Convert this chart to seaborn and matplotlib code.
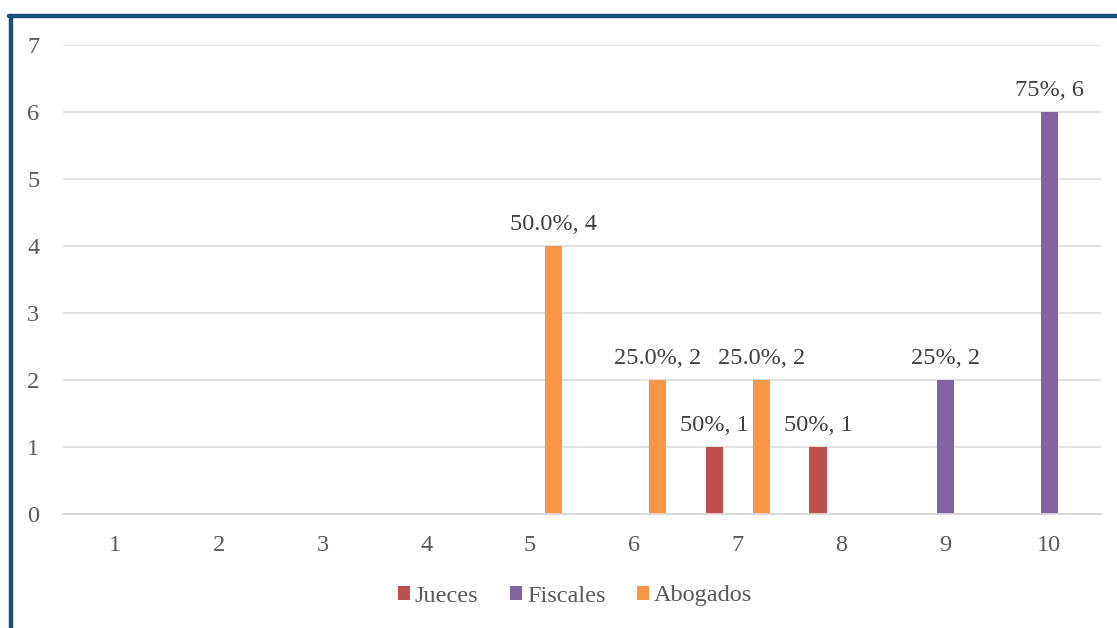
import pandas as pd
import matplotlib.pyplot as plt
from matplotlib.lines import Line2D
import seaborn as sns

# Datos
puntajes = [1, 2, 3, 4, 5, 6, 7, 8, 9, 10]
grupos = ['Jueces', 'Fiscales', 'Abogados']
jueces = [0, 0, 0, 0, 0, 0, 1, 1, 0, 0]
fiscales = [0, 0, 0, 0, 0, 0, 0, 0, 2, 6]
abogados = [0, 0, 0, 0, 4, 2, 2, 0, 0, 0]
jueces_pct = ['', '', '', '', '', '', '50%', '50%', '', '']
fiscales_pct = ['', '', '', '', '', '', '', '', '25%', '75%']
abogados_pct = ['', '', '', '', '50.0%', '25.0%', '25.0%', '', '', '']
colores = ['#C0504D', '#8064A2', '#F79646']

sns.set_theme(style='white')
plt.rcParams['font.family'] = ['Liberation Serif', 'DejaVu Serif']

df = pd.DataFrame({
    'puntaje': puntajes * 3,
    'grupo': [g for g in grupos for _ in puntajes],
    'n': jueces + fiscales + abogados,
})

fig = plt.figure(figsize=(11.17, 6.28), dpi=100)
ax = fig.add_axes([63 / 1117, 1 - 514 / 628, (1101 - 63) / 1117, (514 - 45) / 628])

sns.barplot(data=df, x='puntaje', y='n', hue='grupo', order=puntajes,
            hue_order=grupos, palette=colores, saturation=1, width=0.68,
            gap=0.27, linewidth=0, ax=ax)

# etiquetas de datos
for cont, vals, pcts in zip(ax.containers, [jueces, fiscales, abogados],
                            [jueces_pct, fiscales_pct, abogados_pct]):
    labs = [f'{p}, {v}' if v else '' for v, p in zip(vals, pcts)]
    ax.bar_label(cont, labels=labs, padding=8, fontsize=17.5, color='#404040')

ax.set_ylim(0, 7)
ax.set_yticks(range(0, 8))
ax.set_xlabel('')
ax.set_ylabel('')
ax.grid(axis='y', color='#D9D9D9', linewidth=1.1)
ax.set_axisbelow(True)
for s in ['top', 'right', 'left']:
    ax.spines[s].set_visible(False)
ax.spines['bottom'].set_color('#D9D9D9')
ax.spines['bottom'].set_linewidth(1.3)
ax.tick_params(axis='x', length=0, pad=15, labelsize=17.5, labelcolor='#595959')
ax.tick_params(axis='y', length=0, pad=17, labelsize=17.5, labelcolor='#595959')

ax.legend(loc='center', bbox_to_anchor=(575 / 1117, 1 - 596 / 628),
          bbox_transform=fig.transFigure, ncol=3, frameon=False,
          fontsize=17.5, labelcolor='#595959', handlelength=0.5,
          handleheight=0.5, handletextpad=0.2, columnspacing=1.3)

# borde azul del marco
fig.add_artist(Line2D([10.5 / 1117, 10.5 / 1117], [0, 1 - 15.5 / 628],
                      transform=fig.transFigure, color='#1F4E79', lw=3.2))
fig.add_artist(Line2D([8.5 / 1117, 1], [1 - 15.5 / 628, 1 - 15.5 / 628],
                      transform=fig.transFigure, color='#1F4E79', lw=3.2))

fig.savefig('out.png', dpi=100, facecolor='white')
